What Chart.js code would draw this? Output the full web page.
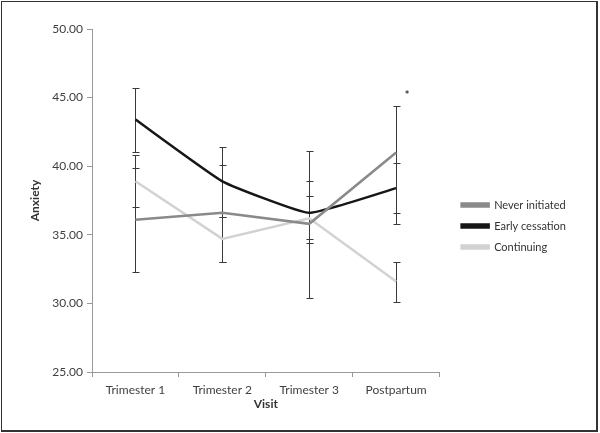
<!DOCTYPE html>
<html>
<head>
<meta charset="utf-8">
<script src="https://cdn.jsdelivr.net/npm/chart.js@4/dist/chart.umd.min.js"></script>
<style>
  body { margin: 0; background: #fff; }
  #wrap { position: relative; width: 600px; height: 433px; }
  #frame { position: absolute; left: 1px; top: 1px; width: 594px; height: 428px; border: 1.5px solid #333; border-right-width: 2px; border-bottom-width: 2px; pointer-events: none; }
</style>
</head>
<body>
<div id="wrap">
  <canvas id="chart" width="600" height="433"></canvas>
  <div id="frame"></div>
</div>
<script>
// visits on the x axis
var visits = ["Trimester 1", "Trimester 2", "Trimester 3", "Postpartum"];
var yTicks = [25, 30, 35, 40, 45, 50];

// mean anxiety per group
var neverInitiated = [36.1, 36.6, 35.8, 41.0];
var earlyCessation = [43.4, 38.9, 36.6, 38.4];
var continuing = [38.9, 34.7, 36.2, 31.6];

// error bar ends (low / high)
var neverLow = [32.3, 33.0, 30.4, 35.8];
var neverHigh = [39.9, 40.1, 41.1, 44.4];
var earlyLow = [41.0, 36.3, 34.4, 36.6];
var earlyHigh = [45.7, 41.4, 38.9, 40.2];
var contLow = [37.0, 33.0, 34.7, 30.1];
var contHigh = [40.8, 36.3, 37.8, 33.0];

var font = "Lato";

var errorBars = {
    id: "errorBars",
    beforeDatasetsDraw: function (chart) {
        var ctx = chart.ctx;
        var xs = chart.scales.x;
        var ys = chart.scales.y;
        ctx.save();
        ctx.strokeStyle = "#3a3a3a";
        ctx.lineWidth = 1;
        chart.data.datasets.forEach(function (ds) {
            ds.low.forEach(function (lo, i) {
                var x = Math.round(xs.getPixelForValue(i)) + 0.5;
                var y1 = Math.round(ys.getPixelForValue(lo)) + 0.5;
                var y2 = Math.round(ys.getPixelForValue(ds.high[i])) + 0.5;
                ctx.beginPath();
                ctx.moveTo(x, y1);
                ctx.lineTo(x, y2);
                ctx.moveTo(x - 3, y1);
                ctx.lineTo(x + 4, y1);
                ctx.moveTo(x - 3, y2);
                ctx.lineTo(x + 4, y2);
                ctx.stroke();
            });
        });
        ctx.restore();
    },
    afterDatasetsDraw: function (chart) {
        var ctx = chart.ctx;
        var x = chart.scales.x.getPixelForValue(3);
        var y = chart.scales.y.getPixelForValue(45.3);
        ctx.save();
        ctx.fillStyle = "#333";
        ctx.font = "bold 11px " + font;
        ctx.textAlign = "center";
        ctx.textBaseline = "middle";
        ctx.fillText("*", x + 11, y + 2);
        ctx.restore();
    },
};

function draw() {
    new Chart(document.getElementById("chart").getContext("2d"), {
        type: "line",
        data: {
            labels: visits,
            datasets: [
                {
                    label: "Never initiated",
                    data: neverInitiated,
                    low: neverLow,
                    high: neverHigh,
                    borderColor: "#8a8a8a",
                    backgroundColor: "#8a8a8a",
                    borderWidth: 2.5,
                    pointRadius: 0,
                    tension: 0,
                },
                {
                    label: "Early cessation",
                    data: earlyCessation,
                    low: earlyLow,
                    high: earlyHigh,
                    borderColor: "#161616",
                    backgroundColor: "#161616",
                    borderWidth: 2.5,
                    pointRadius: 0,
                    tension: 0.12,
                },
                {
                    label: "Continuing",
                    data: continuing,
                    low: contLow,
                    high: contHigh,
                    borderColor: "#d2d2d2",
                    backgroundColor: "#d2d2d2",
                    borderWidth: 2.5,
                    pointRadius: 0,
                    tension: 0,
                },
            ],
        },
        options: {
            responsive: false,
            animation: false,
            layout: { padding: { top: 29, left: 12, right: 24, bottom: 10 } },
            plugins: {
                tooltip: { enabled: false },
                legend: {
                    position: "right",
                    maxWidth: 200,
                    labels: {
                        boxWidth: 27,
                        boxHeight: 3,
                        padding: 10,
                        color: "#333",
                        font: { family: font, size: 11 },
                    },
                },
            },
            scales: {
                x: {
                    offset: true,
                    grid: { offset: true, drawOnChartArea: false, drawTicks: true, tickLength: 5, color: "#999" },
                    border: { color: "#999", width: 1 },
                    ticks: { color: "#404040", padding: 6, font: { family: font, size: 12 } },
                    title: {
                        display: true,
                        text: "Visit",
                        color: "#333",
                        font: { family: font, size: 12, weight: "bold" },
                        padding: { top: 12, bottom: 12 },
                    },
                    afterFit: function (s) { s.height = 51; },
                },
                y: {
                    min: 25,
                    max: 50,
                    afterBuildTicks: function (s) {
                        s.ticks = yTicks.map(function (v) { return { value: v }; });
                    },
                    grid: { drawOnChartArea: false, drawTicks: true, tickLength: 5, color: "#999" },
                    border: { color: "#999", width: 1 },
                    ticks: {
                        color: "#404040",
                        padding: 4,
                        font: { family: font, size: 12 },
                        callback: function (v) { return Number(v).toFixed(2); },
                    },
                    title: {
                        display: true,
                        text: "Anxiety",
                        color: "#333",
                        font: { family: font, size: 12, weight: "bold" },
                        padding: { top: 16, bottom: 16 },
                    },
                    afterFit: function (s) { s.width = 80; },
                },
                gap: {
                    axis: "y",
                    position: "right",
                    display: true,
                    grid: { display: false },
                    border: { display: false },
                    ticks: { display: false },
                    afterFit: function (s) { s.width = 12; },
                },
            },
        },
        plugins: [errorBars],
    });
}

if (document.fonts && document.fonts.load) {
    Promise.all([
        document.fonts.load("11px Lato"),
        document.fonts.load("bold 12px Lato"),
    ]).then(draw, draw);
} else {
    draw();
}
</script>
</body>
</html>
